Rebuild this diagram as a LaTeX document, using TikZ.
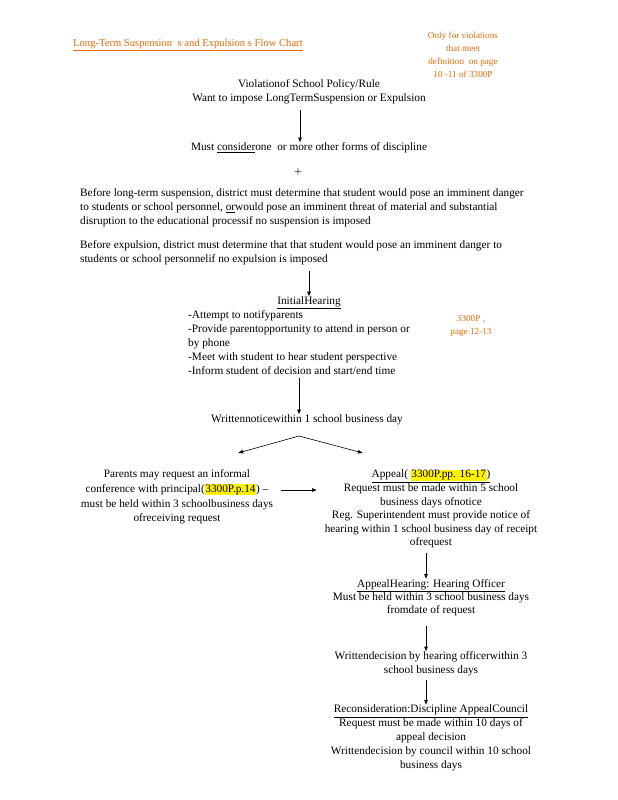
\documentclass[tikz,border=0pt]{standalone}
\usepackage{fontspec}
\setmainfont{Liberation Serif}
\usetikzlibrary{arrows.meta}
\definecolor{orng}{RGB}{228,108,10}
\definecolor{plum}{RGB}{90,25,90}
\newcommand{\hly}[1]{{\setlength{\fboxsep}{0.5pt}\colorbox{yellow}{#1}}}
\begin{document}
\begin{tikzpicture}[x=1pt,y=-1pt,
  txt/.style={inner sep=0pt, font=\fontsize{11.3}{14}\selectfont, align=center},
  txtl/.style={inner sep=0pt, font=\fontsize{11.3}{14}\selectfont, align=left},
  note/.style={inner sep=0pt, font=\fontsize{9.2}{13}\selectfont, align=center, text=orng},
  arr/.style={-{Latex[length=5pt,width=4pt]}, line width=0.8pt},
  arrthin/.style={-{Latex[length=5pt,width=4pt]}, line width=0.6pt}]
\useasboundingbox (0,0) rectangle (618,800);
\fill[white] (0,0) rectangle (618,800);

\node[inner sep=0pt, anchor=west, font=\fontsize{10.6}{12}\selectfont, text=orng] (title) at (73,45)
  {\underline{Long-Term Suspension\ \ s and Expulsion s Flow Chart}};
\node[note] (n1) at (463,55) {Only for violations\\that meet\\definition\ \ on page\\10 -11 of 3300P};

\node[txt] (v) at (309,91.5) {Violationof School Policy/Rule\\Want to impose LongTermSuspension or Expulsion};
\node[txt] (m) at (309,148) {Must \underline{consider}one\ \ or more other forms of discipline};
\draw[arr] (300,110) -- (m.north -| 300,0);

\node[inner sep=0pt, font=\fontsize{14}{14}\selectfont, text=plum] (plus) at (298,173) {+};

\node[txtl, anchor=west] (p1) at (80,208) {Before long-term suspension,\ district must determine\ that student\ would pose an imminent danger\\to students or school\ personnel, \underline{or}would\ pose\ an imminent threat of material and substantial\\disruption to the educational processif no suspension is\ imposed};
\node[txtl, anchor=west] (p2) at (80,253) {Before expulsion, district must determine\ that that student\ would pose\ an imminent danger\ to\\students\ or school personnelif\ no expulsion is imposed};

\node[txt] (ih) at (309,303) {\underline{InitialHearing}};
\draw[arr] (309,271) -- (ih.north -| 309,0);
\node[txtl, anchor=north west] (list) at (188,310) {-Attempt to notifyparents\\-Provide parentopportunity to attend in person or\\by phone\\-Meet\ with student to\ hear student\ perspective\\-Inform student\ of decision and start/end\ time};
\node[note] (n2) at (471,326) {3300P ,\\page\ 12-13};

\node[txt] (wn) at (307,420) {Writtennoticewithin\ 1 school business\ day};
\draw[arr] (299,378) -- (wn.north -| 299,0);
\coordinate (apex) at (299,436);
\coordinate (lt) at (238,453);
\coordinate (rt) at (363,453);
\draw[arrthin] (apex) -- (lt);
\draw[arrthin] (apex) -- (rt);

\node[inner sep=0pt, font=\fontsize{11.3}{14.8}\selectfont, align=center] (pr) at (177,497) {Parents may request\ an informal\\conference with principal(\hly{3300P.p.14}) --\\must be\ held within 3 schoolbusiness\ days\\ofreceiving\ request};
\node[inner sep=0pt, font=\fontsize{11.3}{13.6}\selectfont, align=center] (ap) at (431,509) {\underline{Appeal( \hly{3300P.pp. 16-17})}\\Request\ must be made within 5 school\\business\ days ofnotice\\Reg. Superintendent\ must provide notice of\\hearing within 1 school business\ day of receipt\\ofrequest};
\coordinate (hs) at (281,490);
\coordinate (he) at (317,490);
\draw[arrthin] (hs) -- (he);

\node[inner sep=0pt, font=\fontsize{11.3}{13}\selectfont, align=center] (ah) at (431,597.5) {\underline{AppealHearing: Hearing Officer}\\Must be\ held within 3 school business\ days\\fromdate\ of request};
\draw[arr] (426,553) -- (ah.north -| 426,0);
\node[txt] (wd) at (431,664) {Writtendecision by hearing officerwithin\ 3\\school business\ days};
\draw[arr] (426,626) -- (wd.north -| 426,0);
\node[inner sep=0pt, font=\fontsize{11.3}{13.9}\selectfont, align=center] (rc) at (431,738) {\underline{Reconsideration:Discipline AppealCouncil}\\Request\ must\ be made within 10 days of\\appeal decision\\Writtendecision by council within 10 school\\business\ days};
\draw[arr] (426,680) -- (rc.north -| 426,0);
\end{tikzpicture}
\end{document}
